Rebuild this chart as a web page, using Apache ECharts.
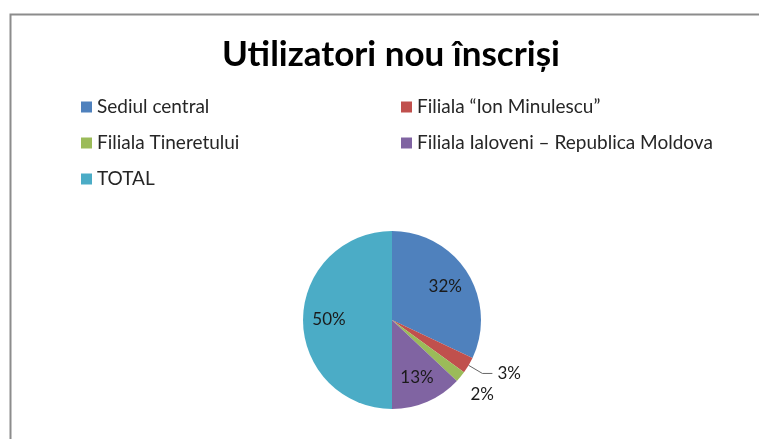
<!DOCTYPE html>
<html>
<head>
<meta charset="utf-8">
<script src="https://cdn.jsdelivr.net/npm/echarts@6/dist/echarts.min.js"></script>
<style>html,body{margin:0;padding:0;background:#fff}#c{width:759px;height:439px}</style>
</head>
<body>
<div id="c"></div>
<script>
const titleText = 'Utilizatori nou înscriși';
const categories = ['Sediul central', 'Filiala “Ion Minulescu”', 'Filiala Tineretului', 'Filiala Ialoveni – Republica Moldova', 'TOTAL'];
const values = [32, 3, 2, 13, 50];
const colors = ['#4F81BD', '#C0504D', '#9BBB59', '#8064A2', '#4BACC6'];

const FONT = 'Lato, "Open Sans", sans-serif';
const chart = echarts.init(document.getElementById('c'), null, {renderer: 'canvas'});

const pct = p => Math.round(p.percent) + '%';
const baseData = categories.map((n, i) => ({name: n, value: values[i]}));

const mainData = baseData.map((d, i) => ({
  ...d,
  itemStyle: {color: colors[i]},
  label: {show: i === 1},
  labelLine: {show: i === 1}
}));
const innerLabelData = baseData.map((d, i) => ({
  ...d,
  label: {show: i === 0 || i === 3 || i === 4}
}));
const edgeLabelData = baseData.map((d, i) => ({
  ...d,
  label: {show: i === 2}
}));

const labelStyle = {color: '#1a1a1a', fontSize: 17, fontFamily: FONT, formatter: pct};
const overlay = {
  type: 'pie', center: [392, 320], startAngle: 90, clockwise: true,
  silent: true, emphasis: {disabled: true}, avoidLabelOverlap: false,
  itemStyle: {color: 'rgba(0,0,0,0)', borderWidth: 0},
  labelLine: {show: false}, legendHoverLink: false
};

chart.setOption({
  backgroundColor: '#fff',
  animation: false,
  color: colors,
  title: {
    text: titleText, left: 217, top: 32,
    textStyle: {fontFamily: FONT, fontSize: 35, fontWeight: 'bold', color: '#000'}
  },
  legend: {
    data: categories,
    left: 81, top: 89, width: 670, padding: 0,
    orient: 'horizontal',
    itemWidth: 11, itemHeight: 11, itemGap: 0,
    icon: 'rect',
    textStyle: {fontFamily: FONT, fontSize: 19, color: '#262626', width: 304, lineHeight: 36, padding: 0}
  },
  graphic: [{
    type: 'rect', left: 8, top: 12, silent: true,
    shape: {width: 800, height: 500},
    style: {fill: 'none', stroke: '#8c8c8c', lineWidth: 2}
  }],
  series: [
    {
      type: 'pie', name: 'main', center: [392, 320], radius: 89,
      startAngle: 90, clockwise: true, avoidLabelOverlap: false,
      data: mainData,
      label: {position: 'outside', ...labelStyle},
      labelLine: {length: 16, length2: 10, lineStyle: {color: '#666', width: 1}, smooth: false}
    },
    {...overlay, name: 'inner', radius: [0, 120], data: innerLabelData,
      label: {position: 'inside', ...labelStyle}},
    {...overlay, name: 'edge', radius: [100, 128], data: edgeLabelData,
      label: {position: 'inside', ...labelStyle}}
  ]
});
</script>
</body>
</html>
